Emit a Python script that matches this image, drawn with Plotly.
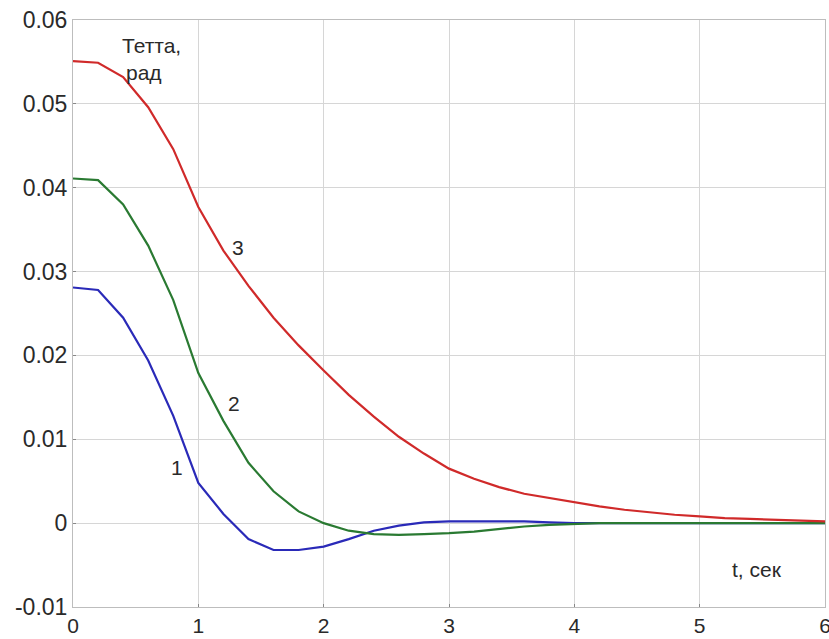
import plotly.graph_objects as go

t = [0.0, 0.2, 0.4, 0.6, 0.8, 1.0, 1.2, 1.4, 1.6, 1.8, 2.0, 2.2, 2.4, 2.6, 2.8, 3.0,
     3.2, 3.4, 3.6, 3.8, 4.0, 4.2, 4.4, 4.6, 4.8, 5.0, 5.2, 5.4, 5.6, 5.8, 6.0]

curve1 = [0.0281, 0.0278, 0.0245, 0.0194, 0.0128, 0.0048, 0.0011, -0.0019, -0.0032, -0.0032,
          -0.0028, -0.0019, -0.0009, -0.0003, 0.0001, 0.0002, 0.0002, 0.0002, 0.0002, 0.0001,
          0.0000, 0.0000, 0.0000, 0.0000, 0.0000, 0.0000, 0.0000, 0.0000, 0.0000, 0.0000, 0.0000]

curve2 = [0.0411, 0.0409, 0.0380, 0.0331, 0.0266, 0.0179, 0.0122, 0.0072, 0.0038, 0.0014,
          0.0000, -0.0009, -0.0013, -0.0014, -0.0013, -0.0012, -0.0010, -0.0007, -0.0004, -0.0002,
          -0.0001, 0.0000, 0.0000, 0.0000, 0.0000, 0.0000, 0.0000, 0.0000, 0.0000, 0.0000, 0.0000]

curve3 = [0.0551, 0.0549, 0.0532, 0.0496, 0.0446, 0.0377, 0.0325, 0.0283, 0.0245, 0.0212,
          0.0182, 0.0153, 0.0127, 0.0103, 0.0083, 0.0065, 0.0053, 0.0043, 0.0035, 0.0030,
          0.0025, 0.0020, 0.0016, 0.0013, 0.0010, 0.0008, 0.0006, 0.0005, 0.0004, 0.0003, 0.0002]

x_ticks = [0, 1, 2, 3, 4, 5, 6]
x_labels = ["0", "1", "2", "3", "4", "5", "6"]
y_ticks = [-0.01, 0, 0.01, 0.02, 0.03, 0.04, 0.05, 0.06]
y_labels = ["-0.01", "0", "0.01", "0.02", "0.03", "0.04", "0.05", "0.06"]

curve_names = ["1", "2", "3"]
label_pos = [(0.83, 0.0066), (1.285, 0.0143), (1.317, 0.0329)]

fig = go.Figure()
for y, color in [(curve1, "#2a2ab8"), (curve2, "#2a7a32"), (curve3, "#d02a2a")]:
    fig.add_trace(go.Scatter(x=t, y=y, mode="lines", line=dict(color=color, width=2.2),
                             showlegend=False, hoverinfo="skip"))

font = dict(family="Liberation Sans, Arial, sans-serif", size=21, color="#2a2a2a")
for name, (xx, yy) in zip(curve_names, label_pos):
    fig.add_annotation(x=xx, y=yy, text=name, showarrow=False, font=font)

fig.add_annotation(x=0.63, y=0.0570, text="Тетта,", showarrow=False, font=font)
fig.add_annotation(x=0.567, y=0.0537, text="рад", showarrow=False, font=font)
fig.add_annotation(x=5.46, y=-0.0055, text="t, сек", showarrow=False, font=font)

axis_common = dict(showgrid=True, gridcolor="#d6d6d6", gridwidth=1, zeroline=False,
                   showline=True, linecolor="#bdbdbd", linewidth=1, mirror=True,
                   ticks="inside", ticklen=3, tickcolor="#888888",
                   ticklabeloverflow="allow", automargin=False)

tick_font_family = "Liberation Sans, Arial, sans-serif"
fig.update_xaxes(range=[0, 6], tickvals=x_ticks, ticktext=x_labels,
                 tickfont=dict(family=tick_font_family, size=21, color="#2a2a2a"), **axis_common)
fig.update_yaxes(range=[-0.01, 0.06], tickvals=y_ticks, ticktext=y_labels,
                 tickfont=dict(family=tick_font_family, size=23, color="#2a2a2a"), **axis_common)

fig.update_layout(width=829, height=639, margin=dict(l=73, r=4, t=20, b=32),
                  paper_bgcolor="white", plot_bgcolor="white")

fig.write_html("out.html")
